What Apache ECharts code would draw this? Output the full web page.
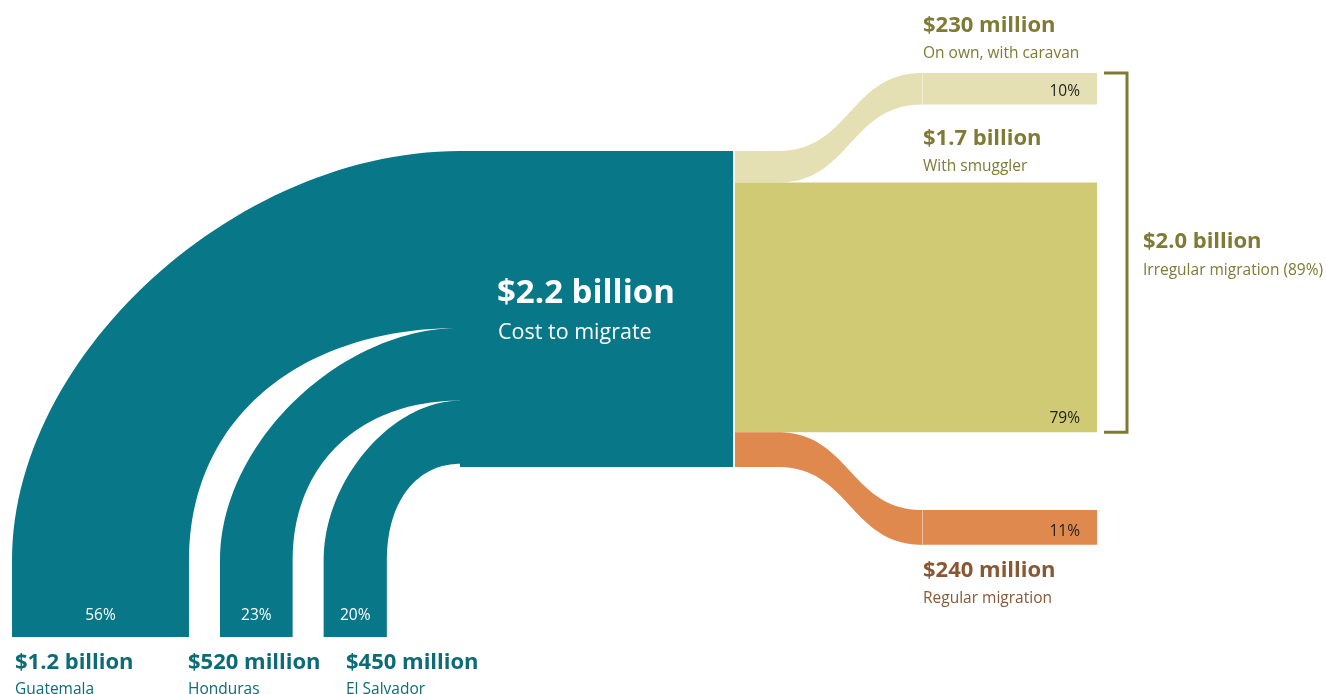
<!DOCTYPE html>
<html><head><meta charset="utf-8">
<script src="https://cdn.jsdelivr.net/npm/echarts@6/dist/echarts.min.js"></script>
<style>html,body{margin:0;padding:0;background:#fff}#c{width:1326px;height:694px}</style>
</head><body><div id="c"></div>
<script>
// ---------- data ----------
const sourceNames = ['Guatemala', 'Honduras', 'El Salvador'];
const sourceAmounts = ['$1.2 billion', '$520 million', '$450 million'];
const sourceShares = [56, 23, 20];
const totalAmount = '$2.2 billion';
const totalName = 'Cost to migrate';
const totalShare = 100;
const routeNames = ['On own, with caravan', 'With smuggler', 'Regular migration'];
const routeAmounts = ['$230 million', '$1.7 billion', '$240 million'];
const routeShares = [10, 79, 11];
const irregularAmount = '$2.0 billion';
const irregularName = 'Irregular migration (89%)';

// ---------- layout (axis units) ----------
const K = 3.16;
const HUB_X0 = 460, HUB_X1 = 733, HUB_TOP = 151;
const BASE_Y = 637, BEND_Y = 560, SRC_X0 = 12, SRC_GAP = 31;
const SRC_LABEL_X = [15, 188, 346];
const FLOW_X0 = 735, FLOW_B0 = 778, FLOW_B1 = 922, FLOW_X1 = 1097;
const ROUTE_TARGET_TOP = [73, null, 510];
const ROUTE_LABEL_DY = [[-50, -22], [-46, -19], [23, 51]]; // [amount, name] offsets from rect edge
const TEAL = '#087889', TEAL_TEXT = '#0d6b78';
const ROUTE_COLORS = ['#e5e0b4', '#cfca73', '#e0894e'];
const ROUTE_TEXT = ['#7f7b34', '#7f7b34', '#8a5733'];
const OLIVE = '#7f7b34';
const FF = '"Open Sans", Lato, sans-serif';
const AMT = 22, NAME = 15.5, PCT = 15.5, TEXT_DY = 2.5;

function bez(p0, p1, p2, p3, n) {
  const pts = [];
  for (let s = 0; s <= n; s++) {
    const t = s / n, u = 1 - t;
    const a = u*u*u, b = 3*u*u*t, c = 3*u*t*t, d = t*t*t;
    pts.push([a*p0[0]+b*p1[0]+c*p2[0]+d*p3[0], a*p0[1]+b*p1[1]+c*p2[1]+d*p3[1]]);
  }
  return pts;
}
function txt(api, x, y, text, fill, size, weight, align) {
  const p = api.coord([x, y + TEXT_DY]);
  return {type: 'text', x: p[0], y: p[1], silent: true,
    style: {text: text, fill: fill, fontFamily: FF, fontSize: size, fontWeight: weight || 'normal',
      align: align || 'left', verticalAlign: 'middle'}};
}
function poly(api, pts, fill) {
  return {type: 'polygon', silent: true, shape: {points: pts.map(p => api.coord(p))}, style: {fill: fill}};
}

function renderSource(params, api) {
  const i = params.dataIndex;
  const share = api.value(1);
  let xo = SRC_X0, yt = HUB_TOP;
  for (let j = 0; j < i; j++) { xo += sourceShares[j]*K + SRC_GAP; yt += sourceShares[j]*K; }
  const w = share * K, xi = xo + w, yb = yt + w;
  const outer = bez([xo, BEND_Y], [xo, BEND_Y - 0.5*(BEND_Y - yt)], [HUB_X0 - 0.5*(HUB_X0 - xo), yt], [HUB_X0, yt], 60);
  const inner = bez([xi, BEND_Y], [xi, BEND_Y - 0.6*(BEND_Y - yb)], [HUB_X0 - 0.6*(HUB_X0 - xi), yb], [HUB_X0, yb], 60).reverse();
  const pts = [[xo, BASE_Y]].concat(outer, [[HUB_X0 + 2, yt], [HUB_X0 + 2, yb]], inner, [[xi, BASE_Y]]);
  return {type: 'group', children: [
    poly(api, pts, TEAL),
    txt(api, xo + w/2, BASE_Y - 24, share + '%', '#ffffff', PCT, 'normal', 'center'),
    txt(api, SRC_LABEL_X[i], BASE_Y + 23, sourceAmounts[i], TEAL_TEXT, AMT, 'bold'),
    txt(api, SRC_LABEL_X[i], BASE_Y + 50, sourceNames[i], TEAL_TEXT, NAME, 'normal')
  ]};
}

function renderHub(params, api) {
  const h = api.value(1) * K;
  const pts = [[HUB_X0, HUB_TOP], [HUB_X1, HUB_TOP], [HUB_X1, HUB_TOP + h], [HUB_X0, HUB_TOP + h]];
  return {type: 'group', children: [
    poly(api, pts, TEAL),
    txt(api, HUB_X0 + 37, HUB_TOP + 140, totalAmount, '#ffffff', 33, 'bold'),
    txt(api, HUB_X0 + 38, HUB_TOP + 179, totalName, '#ffffff', 21.5, 'normal')
  ]};
}

function renderRoute(params, api) {
  const j = params.dataIndex;
  const share = api.value(1);
  let ys = HUB_TOP;
  for (let m = 0; m < j; m++) ys += routeShares[m] * K;
  const w = share * K;
  const yt = ROUTE_TARGET_TOP[j] == null ? ys : ROUTE_TARGET_TOP[j];
  const children = [];
  if (yt === ys) {
    children.push(poly(api, [[FLOW_X0, ys], [FLOW_X1, ys], [FLOW_X1, ys + w], [FLOW_X0, ys + w]], ROUTE_COLORS[j]));
  } else {
    const mid = (FLOW_B0 + FLOW_B1) / 2;
    const top = bez([FLOW_B0, ys], [mid, ys], [mid, yt], [FLOW_B1, yt], 60);
    const bot = bez([FLOW_B0, ys + w], [mid, ys + w], [mid, yt + w], [FLOW_B1, yt + w], 60).reverse();
    const pts = [[FLOW_X0, ys]].concat(top, bot, [[FLOW_X0, ys + w]]);
    children.push(poly(api, pts, ROUTE_COLORS[j]));
    children.push(poly(api, [[FLOW_B1 - 0.5, yt], [FLOW_X1, yt], [FLOW_X1, yt + w], [FLOW_B1 - 0.5, yt + w]], ROUTE_COLORS[j]));
    const s0 = api.coord([FLOW_B1 + 0.5, yt]), s1 = api.coord([FLOW_B1 + 0.5, yt + w]);
    children.push({type: 'line', silent: true, shape: {x1: s0[0], y1: s0[1], x2: s1[0], y2: s1[1]},
      style: {stroke: 'rgba(255,255,255,0.45)', lineWidth: 1}});
  }
  children.push(txt(api, FLOW_X1 - 17, yt + w - 16, share + '%', '#1e1e1e', PCT, 'normal', 'right'));
  const d = ROUTE_LABEL_DY[j];
  const edge = d[0] < 0 ? yt : yt + w;
  children.push(txt(api, FLOW_B1 + 1, edge + d[0], routeAmounts[j], ROUTE_TEXT[j], AMT, 'bold'));
  children.push(txt(api, FLOW_B1 + 1, edge + d[1], routeNames[j], ROUTE_TEXT[j], NAME, 'normal'));
  return {type: 'group', children: children};
}

function renderBracket(params, api) {
  const y0 = ROUTE_TARGET_TOP[0];
  const ySm = HUB_TOP + routeShares[0] * K;
  const y1 = ySm + routeShares[1] * K;
  const x0 = FLOW_X1 + 7, x1 = FLOW_X1 + 30;
  const pts = [[x0, y0], [x1, y0], [x1, y1], [x0, y1]].map(p => api.coord(p));
  const mid = (y0 + y1) / 2;
  return {type: 'group', children: [
    {type: 'polyline', silent: true, shape: {points: pts}, style: {stroke: OLIVE, lineWidth: 3, fill: null}},
    txt(api, x1 + 16, mid - 13, irregularAmount, OLIVE, AMT, 'bold'),
    txt(api, x1 + 16, mid + 15, irregularName, OLIVE, NAME, 'normal')
  ]};
}

const chart = echarts.init(document.getElementById('c'), null, {renderer: 'canvas'});
chart.setOption({
  animation: false,
  backgroundColor: '#ffffff',
  grid: {left: 0, right: 0, top: 0, bottom: 0},
  xAxis: {type: 'value', min: 0, max: 1326, show: false},
  yAxis: {type: 'value', min: 0, max: 694, inverse: true, show: false},
  series: [
    {type: 'custom', name: 'hub', renderItem: renderHub, data: [[0, totalShare]], clip: false},
    {type: 'custom', name: 'sources', renderItem: renderSource, data: sourceShares.map((s, i) => [i, s]), clip: false},
    {type: 'custom', name: 'routes', renderItem: renderRoute, data: routeShares.map((s, i) => [i, s]), clip: false},
    {type: 'custom', name: 'bracket', renderItem: renderBracket, data: [[0, 89]], clip: false}
  ]
});
</script>
</body></html>
